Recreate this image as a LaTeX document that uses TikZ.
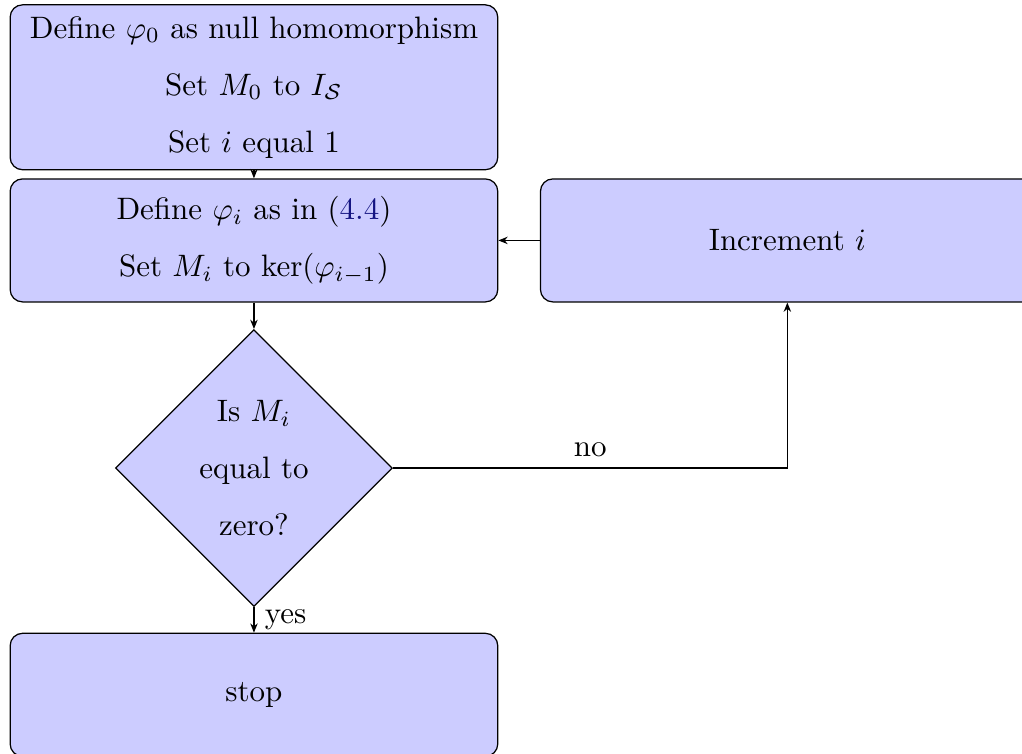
\documentclass[tikz,border=0pt]{standalone}
\usepackage{amsmath,amssymb}
\usepackage{tikz}
\usetikzlibrary{shapes.geometric,arrows.meta,positioning}
\definecolor{linkblue}{RGB}{20,20,130}

\begin{document}
\begin{tikzpicture}[
    stepbox/.style={rectangle, draw, fill=blue!20, rounded corners=4pt, align=center, minimum width=5.53cm, minimum height=1.395cm},
    decide/.style={diamond, draw, fill=blue!20, align=center, aspect=1, inner sep=0pt, minimum width=3.14cm, minimum height=3.14cm},
    arrow/.style={-{Stealth[length=3pt,width=2.4pt]}}
]
\useasboundingbox (0,0) rectangle (11.59,-8.55);

\node[stepbox, minimum height=1.87cm] (init) at (2.88,-0.99) {Define $\varphi_0$ as null homomorphism\\[6.4pt] Set $M_0$ to $I_{\mathcal{S}}$\\[6.4pt] Set $i$ equal 1};

\node[stepbox, below=0.09cm of init] (define) {Define $\varphi_i$ as in (\textcolor{linkblue}{4.4})\\[6.4pt] Set $M_i$ to $\ker(\varphi_{i-1})$};

\node[stepbox, right=0.47cm of define, minimum width=5.6cm] (incr) {Increment $i$};

\node[decide, below=0.3cm of define] (test) {Is $M_i$\\[6.4pt] equal to\\[6.4pt] zero?};

\node[stepbox, below=0.29cm of test] (stop) {stop};

\draw[arrow] (init) -- (define);
\draw[arrow] (define) -- (test);
\draw[arrow] (test) -- node[right] {yes} (stop);
\draw[arrow] (test) -| node[above, pos=0.25] {no} (incr);
\draw[arrow] (incr) -- (define);

\end{tikzpicture}
\end{document}
